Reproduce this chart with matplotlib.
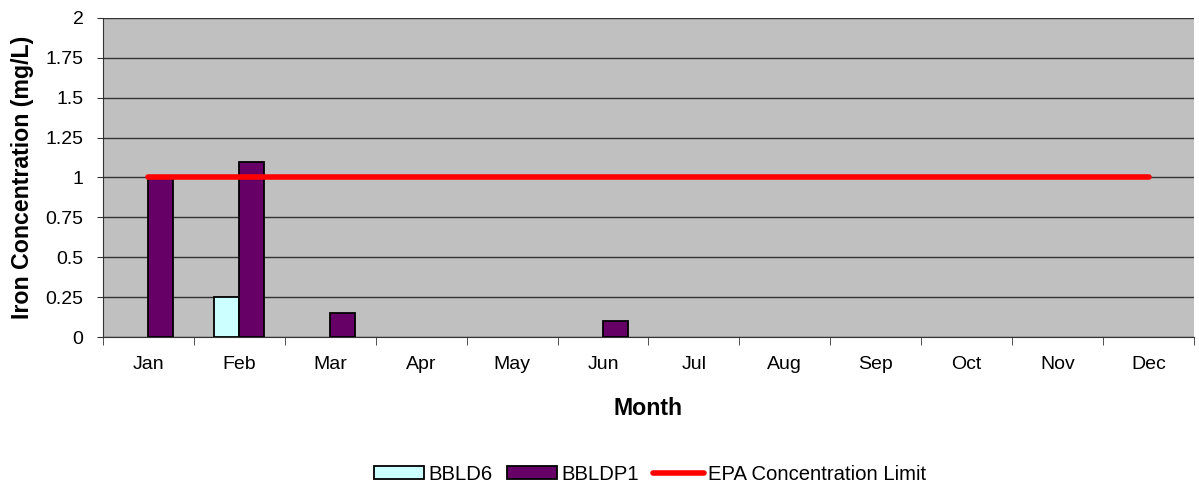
import matplotlib

matplotlib.use("Agg")
import matplotlib.pyplot as plt  # noqa: E402
import numpy as np  # noqa: E402

months = ["Jan", "Feb", "Mar", "Apr", "May", "Jun", "Jul", "Aug", "Sep", "Oct", "Nov", "Dec"]
bbld6 = [0, 0.25, 0, 0, 0, 0, 0, 0, 0, 0, 0, 0]
bbldp1 = [1.0, 1.1, 0.15, 0, 0, 0.1, 0, 0, 0, 0, 0, 0]
epa_limit = [1.0] * 12
yticks = [0, 0.25, 0.5, 0.75, 1, 1.25, 1.5, 1.75, 2]
ytick_labels = ["0", "0.25", "0.5", "0.75", "1", "1.25", "1.5", "1.75", "2"]

plt.rcParams["font.family"] = ["Liberation Sans", "DejaVu Sans"]

TICK_FS = 14
LABEL_FS = 16.7
LEGEND_FS = 14.6


def _hide_zero(vals):
    # zero readings draw no bar at all (no flat outline on the axis)
    v = np.asarray(vals, dtype=float)
    return np.where(v == 0, np.nan, v)


fig = plt.figure(figsize=(11.99, 4.82), dpi=100)
ax = fig.add_axes([0.0859, 0.3008, 0.9099, 0.6619])
ax.set_facecolor("#C0C0C0")

x = np.arange(len(months))
w = 0.275
b1 = ax.bar(x - w / 2, _hide_zero(bbld6), w, color="#CCFFFF", edgecolor="black",
            linewidth=1.3, label="BBLD6", zorder=3)
b2 = ax.bar(x + w / 2, _hide_zero(bbldp1), w, color="#660066", edgecolor="black",
            linewidth=1.3, label="BBLDP1", zorder=3)
(ln,) = ax.plot(x, epa_limit, color="#FF0000", linewidth=4, solid_capstyle="round",
                label="EPA Concentration Limit", zorder=4)

ax.set_xlim(-0.5, len(months) - 0.5)
ax.set_ylim(0, 2)
ax.set_yticks(yticks)
ax.set_yticklabels(ytick_labels, fontsize=TICK_FS)
ax.set_xticks(x)
ax.set_xticklabels(months, fontsize=TICK_FS)
ax.tick_params(axis="x", length=0, pad=14)
ax.set_xticks(np.arange(len(months) + 1) - 0.5, minor=True)
ax.tick_params(axis="x", which="minor", length=6, direction="out", color="#333333")
ax.tick_params(axis="y", length=4.5, direction="out", color="#333333", pad=9.5)
ax.yaxis.grid(True, color="#333333", linewidth=1)
ax.set_axisbelow(True)
for side in ["top", "right"]:
    ax.spines[side].set_visible(False)
ax.spines["left"].set_color("#333333")
ax.spines["bottom"].set_color("#333333")

ax.set_xlabel("Month", fontsize=LABEL_FS, fontweight="bold", labelpad=17)
ax.set_ylabel("Iron Concentration (mg/L)", fontsize=LABEL_FS, fontweight="bold", labelpad=8)

# legend sits under the plot area, centred on the axes rather than the figure
ax.legend(handles=[b1, b2, ln], loc="center", bbox_to_anchor=(0.542, 0.016),
          bbox_transform=fig.transFigure, ncol=3, frameon=False, fontsize=LEGEND_FS,
          handlelength=2.5, handleheight=0.6, handletextpad=0.2, columnspacing=0.7,
          borderpad=0)

fig.savefig("out.png", dpi=100)
